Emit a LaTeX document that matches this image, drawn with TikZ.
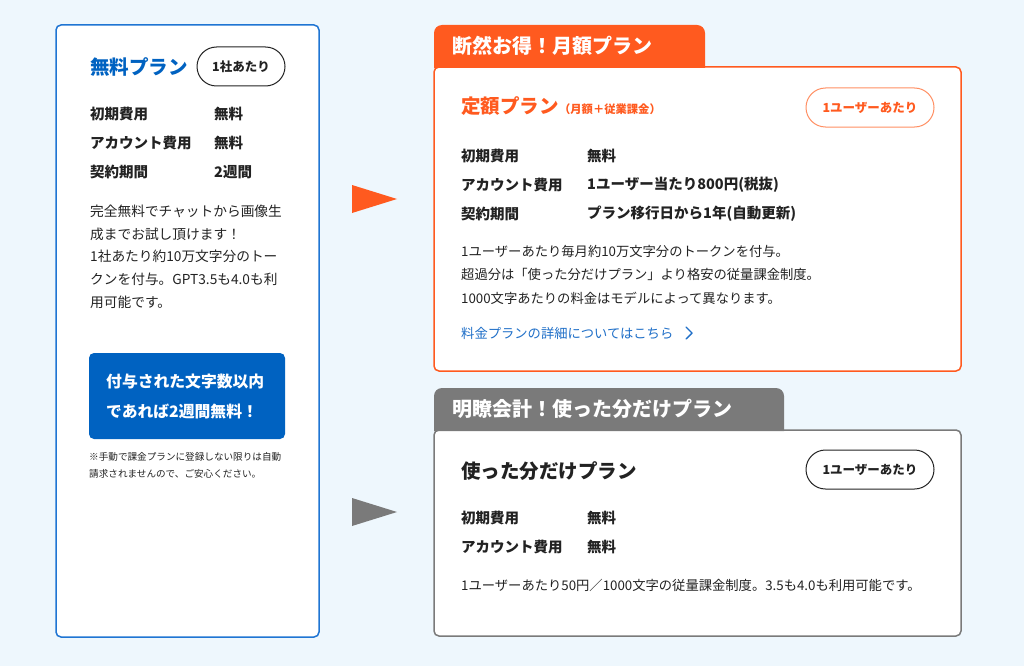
\documentclass[tikz,border=0pt]{standalone}
\usepackage{fontspec}
\setmainfont{Noto Sans CJK JP}
\usetikzlibrary{positioning}
\definecolor{bgblue}{HTML}{EEF7FD}
\definecolor{planblue}{HTML}{0062C1}
\definecolor{borderblue}{HTML}{1F75D3}
\definecolor{linkblue}{HTML}{1F6FC8}
\definecolor{planorange}{HTML}{FF5A1F}
\definecolor{lightorange}{HTML}{FF8F63}
\definecolor{plangray}{HTML}{7A7A7A}
\definecolor{ink}{HTML}{222222}

\begin{document}
\begin{tikzpicture}[x=1pt,y=-1pt,
	panel/.style={fill=white, line width=1.5pt, rounded corners=5pt},
	title/.style={anchor=west, inner sep=0pt, font=\fontsize{19.5}{23}\selectfont\bfseries},
	row/.style={anchor=west, inner sep=0pt, text=ink, font=\fontsize{14.5}{17}\selectfont\bfseries},
	body/.style={anchor=west, inner sep=0pt, text=ink, font=\fontsize{13.3}{16}\selectfont},
	badge/.style={draw, line width=1pt, rounded corners=19.5pt, minimum width=128pt,
		minimum height=39pt, inner sep=0pt, font=\fontsize{12.5}{15}\selectfont\bfseries},
	tabtext/.style={anchor=west, inner sep=0pt, text=white, font=\fontsize{20}{24}\selectfont\bfseries}]

	% Background
	\fill[bgblue] (0,0) rectangle (1024,666);
	\useasboundingbox (0,0) rectangle (1024,666);

	% Free plan (left)
	\draw[panel, draw=borderblue] (56,25) rectangle (319,637);
	\node[title, text=planblue] (freetitle) at (90,67) {無料プラン};
	\node[badge, draw=ink, text=ink, minimum width=88pt] (freebadge) at (241,66.5) {1社あたり};
	\foreach \y/\k/\v in {114/初期費用/無料, 143/アカウント費用/無料, 172/契約期間/2週間} {
		\node[row] (freekey\y) at (90,\y) {\k};
		\node[row] (freeval\y) at (214,\y) {\v};
	}
	\foreach \y/\t in {211/完全無料でチャットから画像生, 234/成までお試し頂けます！,
		256/1社あたり約10万文字分のトー, 279/クンを付与。GPT3.5も4.0も利, 302/用可能です。}
		\node[body, font=\fontsize{13.7}{16}\selectfont] (freetext\y) at (90,\y) {\t};

	% Button
	\fill[planblue, rounded corners=5pt] (89,353) rectangle (285,439);
	\node[row, text=white, font=\fontsize{15.8}{18}\selectfont\bfseries] (freebtn1) at (106,382) {付与された文字数以内};
	\node[row, text=white, font=\fontsize{15.8}{18}\selectfont\bfseries] (freebtn2) at (106,411) {であれば2週間無料！};
	\node[body, font=\fontsize{9.6}{12}\selectfont] (freenote1) at (89,457) {※手動で課金プランに登録しない限りは自動};
	\node[body, font=\fontsize{9.6}{12}\selectfont] (freenote2) at (89,474) {請求されませんので、ご安心ください。};

	% Arrows
	\fill[planorange] (352,185) -- (397,199) -- (352,213) -- cycle;
	\fill[plangray] (352,498) -- (397,512) -- (352,526) -- cycle;

	% Monthly plan (orange)
	\draw[panel, draw=planorange] (434,67) rectangle (961,371);
	\fill[planorange, rounded corners=8pt] (434,68) -- (434,25) -- (705,25) -- (705,68);
	\node[tabtext] (fixtab) at (452,46) {断然お得！月額プラン};
	\node[title, text=planorange] (fixtitle) at (461,106) {定額プラン};
	\node[anchor=base west, inner sep=0pt, text=planorange, font=\fontsize{11.3}{13}\selectfont\bfseries]
		(fixsub) at (fixtitle.base east) {（月額＋従業課金）};
	\node[badge, draw=lightorange, text=planorange] (fixbadge) at (870,107.5) {1ユーザーあたり};
	\foreach \y/\k/\v in {156/初期費用/無料, 185/アカウント費用/1ユーザー当たり800円(税抜), 214/契約期間/プラン移行日から1年(自動更新)} {
		\node[row] (fixkey\y) at (461,\y) {\k};
		\node[row] (fixval\y) at (587,\y) {\v};
	}
	\foreach \y/\t in {251/1ユーザーあたり毎月約10万文字分のトークンを付与。,
		274/超過分は「使った分だけプラン」より格安の従量課金制度。,
		298/1000文字あたりの料金はモデルによって異なります。}
		\node[body] (fixtext\y) at (461,\y) {\t};
	\node[body, text=linkblue] (fixlink) at (461,333) {料金プランの詳細についてはこちら};
	\draw[linkblue, line width=1.4pt, line cap=round, line join=round] (686,327) -- (692,333) -- (686,339);

	% Pay-as-you-go plan (gray)
	\draw[panel, draw=plangray] (434,430) rectangle (961,636);
	\fill[plangray, rounded corners=8pt] (434,431) -- (434,388) -- (784,388) -- (784,431);
	\node[tabtext] (usetab) at (452,409) {明瞭会計！使った分だけプラン};
	\node[title, text=ink] (usetitle) at (461,471) {使った分だけプラン};
	\node[badge, draw=ink, text=ink] (usebadge) at (870,469.5) {1ユーザーあたり};
	\foreach \y/\k/\v in {518/初期費用/無料, 547/アカウント費用/無料} {
		\node[row] (usekey\y) at (461,\y) {\k};
		\node[row] (useval\y) at (587,\y) {\v};
	}
	\node[body] (usetext) at (461,585) {1ユーザーあたり50円／1000文字の従量課金制度。3.5も4.0も利用可能です。};

\end{tikzpicture}
\end{document}
